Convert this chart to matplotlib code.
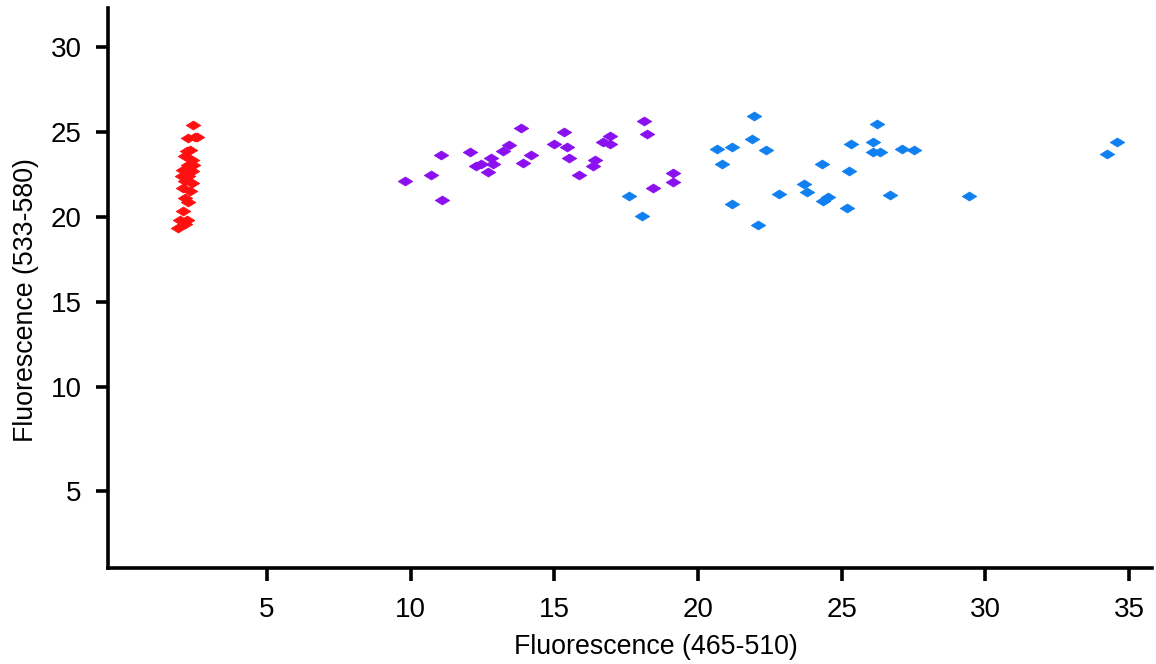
import numpy as np
import matplotlib
matplotlib.use("Agg")
import matplotlib.pyplot as plt
from matplotlib.path import Path

# ---- data ----
red_x = [2.44, 2.26, 2.50, 2.56, 2.32, 2.21, 2.15, 2.38, 2.26, 2.44, 2.09, 2.38, 2.03, 2.26,
         2.15, 2.38, 2.09, 2.32, 2.15, 2.25, 2.09, 1.97, 2.21, 1.91, 2.15]
red_y = [25.44, 24.66, 24.69, 24.70, 23.97, 23.87, 23.58, 23.38, 23.09, 23.09, 22.79, 22.69, 22.40, 22.40,
         22.11, 22.01, 21.72, 21.52, 21.13, 20.90, 20.34, 19.85, 19.85, 19.36, 19.56]

purple_x = [9.80, 10.70, 11.05, 11.10, 12.07, 12.28, 12.44, 12.68, 12.79, 12.88, 13.21, 13.44,
            13.83, 13.92, 14.18, 15.00, 15.35, 15.43, 15.52, 15.87, 16.36, 16.42, 16.69, 16.94,
            16.94, 18.13, 18.22, 18.43, 19.14, 19.14]
purple_y = [22.15, 22.50, 23.68, 20.99, 23.81, 23.03, 23.15, 22.64, 23.48, 23.13, 23.91, 24.26,
            25.25, 23.19, 23.68, 24.31, 25.01, 24.11, 23.48, 22.46, 22.99, 23.34, 24.40, 24.79,
            24.31, 25.68, 24.89, 21.72, 22.60, 22.09]

blue_x = [17.61, 18.06, 20.68, 20.85, 21.18, 21.20, 21.87, 21.96, 22.10, 22.37, 22.83, 23.69,
          23.79, 24.31, 24.34, 24.54, 25.27, 25.32, 25.18, 26.08, 26.22, 26.10, 26.34, 26.69,
          27.09, 27.52, 29.45, 34.23, 34.60]
blue_y = [21.26, 20.05, 24.01, 23.13, 24.11, 20.74, 24.60, 25.93, 19.50, 23.97, 21.36, 21.95,
          21.46, 23.13, 20.93, 21.16, 22.69, 24.32, 20.54, 24.40, 25.50, 23.84, 23.84, 21.32,
          24.01, 23.97, 21.22, 23.74, 24.40]

x_ticks = [5, 10, 15, 20, 25, 30, 35]
y_ticks = [5, 10, 15, 20, 25, 30]
x_label = "Fluorescence (465-510)"
y_label = "Fluorescence (533-580)"

# ---- y scale: linear above 10, stretched below 10 ----
STRETCH = 1.23


def fwd(v):
    v = np.asarray(v, dtype=float)
    return np.where(v >= 10, v, 10 - (10 - v) * STRETCH)


def inv(u):
    u = np.asarray(u, dtype=float)
    return np.where(u >= 10, u, 10 - (10 - u) / STRETCH)


plt.rcParams['font.family'] = ['Liberation Sans', 'DejaVu Sans']

fig = plt.figure(figsize=(11.56, 6.64), dpi=100)
ax = fig.add_axes([0.0934, 0.1446, 0.9031, 0.8434])

diamond = Path([(-1, 0), (0, 0.62), (1, 0), (0, -0.62), (-1, 0)],
               [Path.MOVETO, Path.LINETO, Path.LINETO, Path.LINETO, Path.CLOSEPOLY])

for xs, ys, col in [(red_x, red_y, '#FF1010'), (purple_x, purple_y, '#8A10F0'),
                    (blue_x, blue_y, '#1080F0')]:
    ax.plot(xs, ys, linestyle='none', marker=diamond, markersize=10.5,
            markerfacecolor=col, markeredgecolor=col, markeredgewidth=0.5)

ax.set_yscale('function', functions=(fwd, inv))
ax.set_xlim(-0.53, 35.8)
ax.set_ylim(1.31, 32.32)

ax.set_xticks(x_ticks)
ax.set_yticks(y_ticks)
ax.set_xticklabels([str(t) for t in x_ticks], fontsize=20)
ax.set_yticklabels([str(t) for t in y_ticks], fontsize=20)
ax.minorticks_off()

for s in ['top', 'right']:
    ax.spines[s].set_visible(False)
for s in ['left', 'bottom']:
    ax.spines[s].set_linewidth(2.6)
    ax.spines[s].set_color('black')

ax.tick_params(axis='both', direction='out', length=9, width=2.6,
               colors='black')
ax.tick_params(axis='x', pad=12)
ax.tick_params(axis='y', pad=10)

ax.set_xlabel(x_label, fontsize=19.3)
ax.set_ylabel(y_label, fontsize=19.3)
ax.xaxis.set_label_coords(0.525, -0.117)
ax.yaxis.set_label_coords(-0.0665, 0.478)

fig.savefig('out.png', dpi=100, facecolor='white')
